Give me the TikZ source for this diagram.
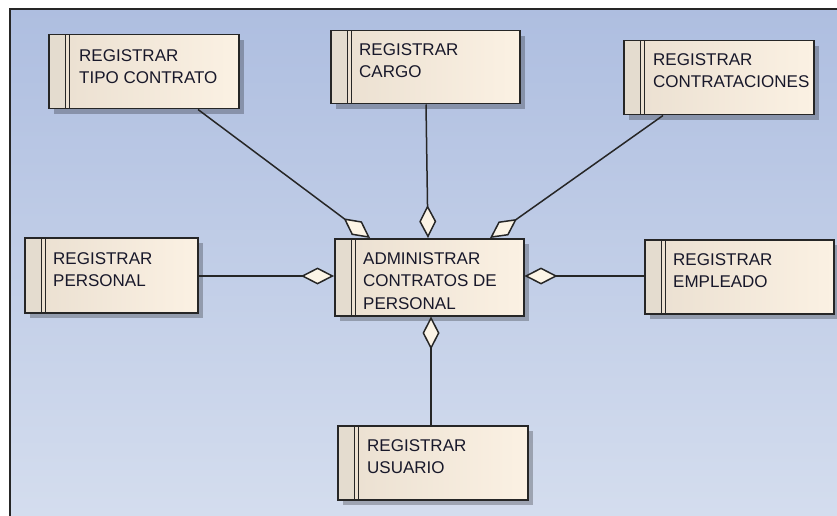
\documentclass[tikz,border=0pt]{standalone}
\usepackage{fontspec}
\setmainfont{Liberation Sans}
\usetikzlibrary{arrows.meta,shadows}

\definecolor{bgtop}{HTML}{AEBEE0}
\definecolor{bgbot}{HTML}{D4DDEE}
\definecolor{boxleft}{HTML}{EADFD0}
\definecolor{boxright}{HTML}{FBF1E3}
\definecolor{stripefill}{HTML}{E4DCCF}
\definecolor{edge}{HTML}{262626}
\definecolor{diafill}{HTML}{FCF4E6}
\definecolor{labeltext}{HTML}{18182A}

\tikzset{
  procbox/.style={
    rectangle, draw=edge, line width=1.5pt, anchor=north west, inner sep=0pt,
    left color=boxleft, right color=boxright,
    drop shadow={shadow xshift=5pt, shadow yshift=-5pt, fill=black, opacity=0.25},
    path picture={
      \fill[stripefill] (path picture bounding box.north west)
        rectangle ([xshift=17pt]path picture bounding box.south west);
      \draw[edge, line width=1.3pt]
        ([xshift=17pt]path picture bounding box.north west) --
        ([xshift=17pt]path picture bounding box.south west);
      \draw[edge, line width=1.3pt]
        ([xshift=20.5pt]path picture bounding box.north west) --
        ([xshift=20.5pt]path picture bounding box.south west);
    }
  },
  boxlabel/.style={
    anchor=north west, inner sep=0pt, align=left, text=labeltext,
    font=\fontsize{17pt}{22.5pt}\selectfont
  },
  link/.style={
    draw=edge, line width=1.5pt,
    -{Diamond[length=33pt, width=17pt, fill=diafill, line join=miter]}
  }
}

\begin{document}
\begin{tikzpicture}[x=1pt, y=-1pt]
  % page and canvas
  \useasboundingbox (0,0) rectangle (837,516);
  \fill[white] (0,0) rectangle (837,516);
  \shade[top color=bgtop, bottom color=bgbot] (10,9) rectangle (837,516);
  \draw[edge, line width=1.8pt] (10,516) -- (10,9) -- (837,9);

  % processes
  \node[procbox, minimum width=190pt, minimum height=74pt] (tipo)   at (48,34)  {};
  \node[procbox, minimum width=189pt, minimum height=73pt] (cargo)  at (330,30) {};
  \node[procbox, minimum width=190pt, minimum height=74pt] (contr)  at (623,40) {};
  \node[procbox, minimum width=173pt, minimum height=75pt] (pers)   at (24,237) {};
  \node[procbox, minimum width=189pt, minimum height=77pt] (admin)  at (334,238) {};
  \node[procbox, minimum width=189pt, minimum height=74pt] (empl)   at (644,239) {};
  \node[procbox, minimum width=190pt, minimum height=74pt] (usu)    at (337,425) {};

  \node[boxlabel] (tipoT)  at ([xshift=31pt,yshift=-15pt]tipo.north west)  {REGISTRAR\\TIPO CONTRATO};
  \node[boxlabel] (cargoT) at ([xshift=29pt,yshift=-13pt]cargo.north west) {REGISTRAR\\CARGO};
  \node[boxlabel] (contrT) at ([xshift=30pt,yshift=-13pt]contr.north west) {REGISTRAR\\CONTRATACIONES};
  \node[boxlabel] (persT)  at ([xshift=29pt,yshift=-15pt]pers.north west)  {REGISTRAR\\PERSONAL};
  \node[boxlabel] (adminT) at ([xshift=29pt,yshift=-14pt]admin.north west) {ADMINISTRAR\\CONTRATOS DE\\PERSONAL};
  \node[boxlabel] (emplT)  at ([xshift=29pt,yshift=-14pt]empl.north west)  {REGISTRAR\\EMPLEADO};
  \node[boxlabel] (usuT)   at ([xshift=30pt,yshift=-14pt]usu.north west)   {REGISTRAR\\USUARIO};

  % aggregations towards the central process
  \draw[link] ([xshift=150pt]tipo.south west)  -- ([xshift=36pt]admin.north west);
  \draw[link] ([xshift=96pt]cargo.south west)  -- ([xshift=94pt]admin.north west);
  \draw[link] ([xshift=40pt]contr.south west)  -- ([xshift=156pt]admin.north west);
  \draw[link] ([yshift=-39pt]pers.north east)  -- ([yshift=-38pt]admin.north west);
  \draw[link] ([yshift=-37pt]empl.north west)  -- ([yshift=-38pt]admin.north east);
  \draw[link] ([xshift=94pt]usu.north west)    -- ([xshift=97pt]admin.south west);
\end{tikzpicture}
\end{document}
